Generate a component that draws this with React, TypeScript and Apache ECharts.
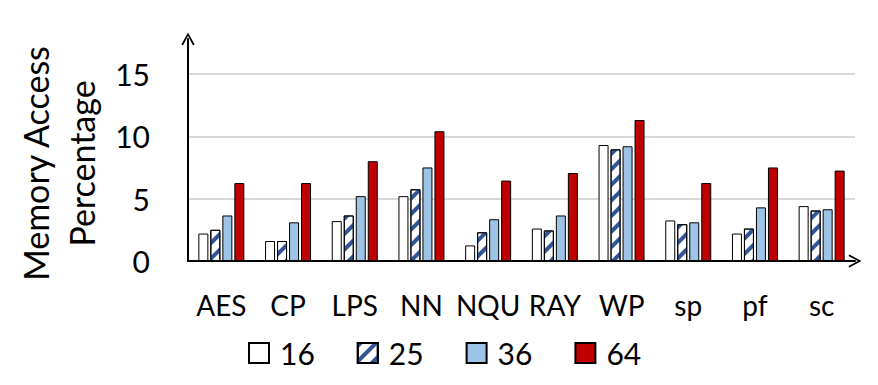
import React, { useEffect, useRef } from "react";
import * as echarts from "echarts";

const categories = ["AES", "CP", "LPS", "NN", "NQU", "RAY", "WP", "sp", "pf", "sc"];
const seriesNames = ["16", "25", "36", "64"];
const values16 = [2.2, 1.6, 3.2, 5.2, 1.25, 2.6, 9.3, 3.25, 2.2, 4.4];
const values25 = [2.5, 1.6, 3.65, 5.75, 2.3, 2.45, 8.95, 2.95, 2.6, 4.05];
const values36 = [3.65, 3.1, 5.2, 7.5, 3.35, 3.65, 9.2, 3.1, 4.3, 4.15];
const values64 = [6.25, 6.25, 8.0, 10.4, 6.45, 7.05, 11.3, 6.25, 7.5, 7.25];
const yTicks = [0, 5, 10, 15];

const FONT = "Lato";
const chevron = "path://M0,11 L6,0 L12,11 L10.6,11.8 L6,3.2 L1.4,11.8 Z";

export default function App() {
  const ref = useRef<HTMLDivElement>(null);
  useEffect(() => {
    document.body.style.margin = "0";
    const chart = echarts.init(ref.current!, undefined, { renderer: "svg" });
    const border = { borderColor: "#000", borderWidth: 1 };
    chart.setOption({
      animation: false,
      textStyle: { fontFamily: FONT },
      grid: { left: 188, right: 23, top: 39, bottom: 124 },
      legend: {
        data: seriesNames,
        left: 243,
        top: 333,
        itemWidth: 20,
        itemHeight: 20,
        itemGap: 42,
        icon: "rect",
        textStyle: { fontFamily: FONT, fontSize: 30, color: "#000", padding: [0, 0, 0, 6] },
      },
      xAxis: {
        type: "category",
        data: categories,
        axisLine: { show: true, symbol: ["none", chevron], symbolSize: [14, 13], lineStyle: { color: "#000", width: 2 } },
        axisTick: { show: false },
        axisLabel: { fontFamily: FONT, fontSize: 28, color: "#000", margin: 30, interval: 0 },
      },
      yAxis: {
        type: "value",
        min: 0,
        max: 17.8,
        interval: 5,
        name: "Memory Access\nPercentage",
        nameLocation: "middle",
        nameGap: 84,
        nameTextStyle: { fontFamily: FONT, fontSize: 34, color: "#000", lineHeight: 46, padding: [0, 27, 0, 0] },
        axisLine: { show: true, symbol: ["none", chevron], symbolSize: [14, 13], lineStyle: { color: "#000", width: 2 } },
        axisTick: { show: false },
        axisLabel: {
          fontFamily: FONT,
          fontSize: 30,
          color: "#000",
          margin: 38,
          showMaxLabel: false,
          formatter: (v: number) => (yTicks.includes(v) ? String(v) : ""),
        },
        splitLine: { show: true, showMaxLine: false, lineStyle: { color: "#d9d9d9", width: 2 } },
      },
      series: [
        { name: "16", type: "bar", data: values16, barWidth: 10, barGap: "20%", itemStyle: { color: "#ffffff", ...border } },
        {
          name: "25",
          type: "bar",
          data: values25,
          barWidth: 10,
          barGap: "20%",
          itemStyle: {
            color: "#ffffff",
            ...border,
            decal: {
              symbol: "rect",
              symbolSize: 1,
              dashArrayX: [1, 0],
              dashArrayY: [4, 7],
              rotation: -Math.PI / 4,
              color: "#2f5597",
              backgroundColor: null,
            },
          },
        },
        { name: "36", type: "bar", data: values36, barWidth: 10, barGap: "20%", itemStyle: { color: "#9dc3e6", ...border } },
        { name: "64", type: "bar", data: values64, barWidth: 10, barGap: "20%", itemStyle: { color: "#c00000", ...border } },
      ],
    });
    return () => chart.dispose();
  }, []);
  return <div ref={ref} style={{ width: 878, height: 385 }} />;
}
